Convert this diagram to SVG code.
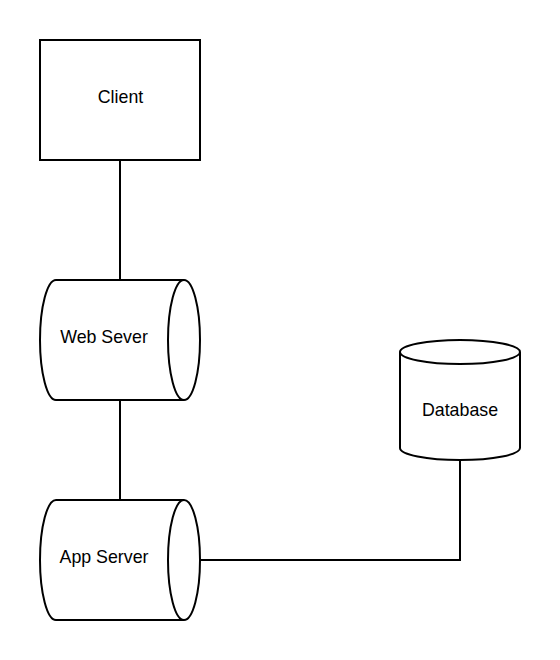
<svg xmlns="http://www.w3.org/2000/svg" width="560" height="660" viewBox="0 0 560 660">
<style>
.s{fill:#fff;stroke:#000;stroke-width:2;stroke-miterlimit:10}
.n{fill:none;stroke:#000;stroke-width:2;stroke-miterlimit:10}
text{font-family:"Liberation Sans",Arial,sans-serif;font-size:17.8px;fill:#000;text-anchor:middle}
</style>
<rect width="560" height="660" fill="#fff"/>
<g id="connectors">
<path class="n" d="M120 160V280"/>
<path class="n" d="M120 400V500"/>
<path class="n" d="M200 560H460V460"/>
</g>
<g id="client"><rect class="s" x="40" y="40" width="160" height="120"/><text x="120.500" y="103">Client</text></g>
<g id="web-server">
<path class="s" d="M56 280H184C192.800 280 200 306.900 200 340C200 373.100 192.800 400 184 400H56C47.200 400 40 373.100 40 340C40 306.900 47.200 280 56 280Z"/>
<path class="n" d="M184 280C175.200 280 168 306.900 168 340C168 373.100 175.200 400 184 400"/>
<text x="104" y="343">Web Sever</text></g>
<g id="app-server">
<path class="s" d="M56 500H184C192.800 500 200 526.900 200 560C200 593.100 192.800 620 184 620H56C47.200 620 40 593.100 40 560C40 526.900 47.200 500 56 500Z"/>
<path class="n" d="M184 500C175.200 500 168 526.900 168 560C168 593.100 175.200 620 184 620"/>
<text x="104" y="563">App Server</text></g>
<g id="database">
<path class="s" d="M400 352C400 345.400 426.900 340 460 340C493.100 340 520 345.400 520 352V448C520 454.600 493.100 460 460 460C426.900 460 400 454.600 400 448Z"/>
<path class="n" d="M400 352C400 358.600 426.900 364 460 364C493.100 364 520 358.600 520 352"/>
<text x="460" y="416">Database</text></g>
</svg>
